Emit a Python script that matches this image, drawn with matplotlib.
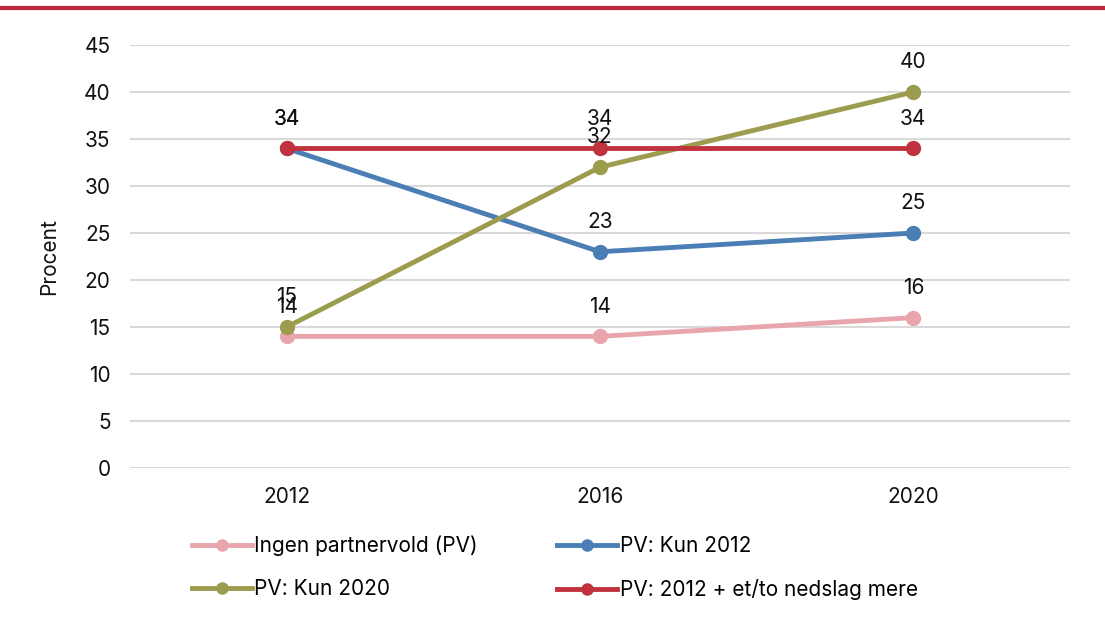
import numpy as np
import matplotlib
matplotlib.use('Agg')
import matplotlib.pyplot as plt
from matplotlib.lines import Line2D

plt.rcParams['font.family'] = ['Inter', 'DejaVu Sans']

years = ['2012', '2016', '2020']
ingen = [14, 14, 16]
kun2012 = [34, 23, 25]
kun2020 = [15, 32, 40]
mere = [34, 34, 34]

names = ['Ingen partnervold (PV)', 'PV: Kun 2012', 'PV: Kun 2020',
         'PV: 2012 + et/to nedslag mere']
colors = ['#E8A5AB', '#4A7EB4', '#9C9C4E', '#C1323F']
series = [ingen, kun2012, kun2020, mere]

fig = plt.figure(figsize=(11.05, 6.19), dpi=100)
ax = fig.add_axes([130/1105, 1-468/619, 940/1105, 423/619])

x = np.arange(len(years))
for vals, c, n in zip(series, colors, names):
    ax.plot(x, vals, color=c, lw=3.5, marker='o', ms=10, label=n,
            solid_capstyle='round')
    for xi, v in zip(x, vals):
        ax.annotate(str(v), (xi, v), xytext=(0, 21.5), textcoords='offset points',
                    ha='center', va='center', fontsize=15, color='#111111')

ax.set_xlim(-0.5, 2.5)
ax.set_ylim(0, 45)
ax.set_yticks(range(0, 46, 5))
ax.set_xticks(x)
ax.set_xticklabels(years)
ax.tick_params(length=0, labelsize=15, colors='#111111')
ax.tick_params(axis='x', pad=14)
ax.tick_params(axis='y', pad=14)
ax.grid(axis='y', color='#D9D9D9', lw=1.5)
ax.set_axisbelow(True)
for s in ax.spines.values():
    s.set_visible(False)
ax.set_ylabel('Procent', fontsize=15, color='#111111', labelpad=18)

# top rule
fig.add_artist(Line2D([0, 1], [1-8/619, 1-8/619], color='#C1283A', lw=3,
                      transform=fig.transFigure))

# row-major order like the original legend
order = [0, 2, 1, 3]
handles = [Line2D([], [], color=colors[i], lw=3.5, marker='o', ms=8) for i in order]
fig.legend(handles, [names[i] for i in order], ncol=2, loc='center left',
           bbox_to_anchor=(173/1105, 1-568/619), frameon=False, fontsize=15,
           handlelength=2.9, handletextpad=0.1, columnspacing=3.8,
           labelspacing=1.1)

fig.savefig('out.png', dpi=100)
